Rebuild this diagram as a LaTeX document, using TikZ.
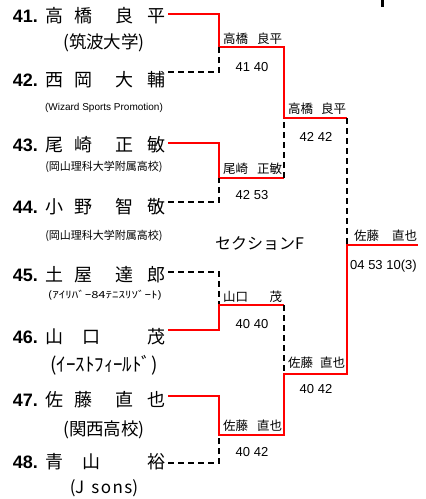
\documentclass[tikz,border=0pt]{standalone}
\usepackage{fontspec}
\setmainfont{Liberation Sans}
\newfontfamily\jp{Noto Sans CJK JP}

% letter-spaced player names
\newcommand{\fourname}[4]{\makebox[18pt][l]{#1}\hspace{11pt}\makebox[18pt][l]{#2}\hspace{23pt}\makebox[18pt][l]{#3}\hspace{14pt}#4}
\newcommand{\threename}[3]{\makebox[18pt][l]{#1}\hspace{19pt}\makebox[18pt][l]{#2}\hspace{47pt}#3}
\newcommand{\wname}[3][59pt]{\makebox[#1][l]{#2\hfill#3}}

\tikzset{
  num/.style={anchor=east,inner sep=0pt,font=\fontsize{18}{18}\selectfont\bfseries},
  player/.style={anchor=west,inner sep=0pt,font=\jp\fontsize{18}{18}\selectfont},
  club/.style={inner sep=0pt,font=\jp\fontsize{17.5}{17.5}\selectfont},
  tinyclub/.style={inner sep=0pt,font=\jp\fontsize{11}{11}\selectfont},
  winner/.style={anchor=west,inner sep=0pt,font=\jp\fontsize{12.5}{12.5}\selectfont},
  score/.style={inner sep=0pt,text height=9.3pt,text depth=0pt,font=\fontsize{13}{13}\selectfont},
  won/.style={red,line width=1.6pt},
  lost/.style={black,line width=1.4pt,dash pattern=on 6pt off 4pt}
}

\begin{document}
\begin{tikzpicture}[x=1pt,y=-1pt]
\useasboundingbox (0,0) rectangle (426,499);
\fill (380.5,0) rectangle (383.5,7);

\node[num] (n41) at (38,16) {41.};
\node[player] (p41) at (45,16) {\fourname{高}{橋}{良}{平}};
\node[club] (c41) at (104,43) {(筑波大学)};
\node[num] (n42) at (38,80) {42.};
\node[player] (p42) at (45,80) {\fourname{西}{岡}{大}{輔}};
\node[tinyclub,font=\fontsize{10}{10}\selectfont] (c42) at (104,108) {(Wizard Sports Promotion)};
\node[num] (n43) at (38,145) {43.};
\node[player] (p43) at (45,145) {\fourname{尾}{崎}{正}{敏}};
\node[tinyclub] (c43) at (104,167) {(岡山理科大学附属高校)};
\node[num] (n44) at (38,207) {44.};
\node[player] (p44) at (45,207) {\fourname{小}{野}{智}{敬}};
\node[tinyclub] (c44) at (104,236) {(岡山理科大学附属高校)};
\node[num] (n45) at (38,275) {45.};
\node[player] (p45) at (45,275) {\fourname{土}{屋}{達}{郎}};
\node[tinyclub,font=\jp\fontsize{13}{13}\selectfont] (c45) at (105,295) {\scalebox{1}[0.75]{(ｱｲﾘﾊﾞｰ84ﾃﾆｽﾘｿﾞｰﾄ)}};
\node[num] (n46) at (38,337) {46.};
\node[player] (p46) at (45,337) {\threename{山}{口}{茂}};
\node[club,font=\jp\fontsize{19}{19}\selectfont] (c46) at (104,365) {(ｲｰｽﾄﾌｨｰﾙﾄﾞ)};
\node[num] (n47) at (38,400) {47.};
\node[player] (p47) at (45,400) {\fourname{佐}{藤}{直}{也}};
\node[club] (c47) at (104,430) {(関西高校)};
\node[num] (n48) at (38,462) {48.};
\node[player] (p48) at (45,462) {\threename{青}{山}{裕}};
\node[club,font=\jp\fontsize{17}{17}\selectfont] (c48) at (104,488) {(J\hspace{7pt}s\hspace{1.5pt}o\hspace{1.5pt}n\hspace{1.5pt}s)};

\node[winner,font=\jp\fontsize{16}{16}\selectfont] (sec) at (215,243) {セクションF};

\coordinate (l41) at (168,14);
\coordinate (l42) at (168,72);
\coordinate (l43) at (168,143);
\coordinate (l44) at (168,202);
\coordinate (l45) at (168,272);
\coordinate (l46) at (168,330);
\coordinate (l47) at (168,396);
\coordinate (l48) at (168,463);
\coordinate (q1) at (219,47);
\coordinate (q2) at (219,178);
\coordinate (q3) at (219,305);
\coordinate (q4) at (219,435);
\coordinate (t1) at (284,47);
\coordinate (t2) at (284,178);
\coordinate (t3) at (284,305);
\coordinate (t4) at (284,435);
\coordinate (u1) at (284,118);
\coordinate (u2) at (284,374);
\coordinate (v1) at (347,118);
\coordinate (v2) at (347,374);
\coordinate (f) at (347,245);
\coordinate (fe) at (418,245);

\draw[won] (l41) -| (q1) -- (t1) -- (u1) -- (v1);
\draw[lost] (l42) -| (q1);
\draw[won] (l43) -| (q2) -- (t2);
\draw[lost] (l44) -| (q2);
\draw[lost] (t2) -- (u1);
\draw[lost] (v1) -- (f);
\draw[lost] (l45) -| (q3);
\draw[won] (l46) -| (q3) -- (t3);
\draw[lost] (t3) -- (u2);
\draw[won] (l47) -| (q4) -- (t4) -- (u2) -- (v2) -- (f) -- (fe);
\draw[lost] (l48) -| (q4);

\node[winner] (w1) at (223,39) {\wname{高橋}{良平}};
\node[score] (s1) at (252,67) {41 40};
\node[winner] (w2) at (223,169) {\wname{尾崎}{正敏}};
\node[score] (s2) at (252,195) {42 53};
\node[winner] (w3) at (223,297) {\wname{山口}{茂}};
\node[score] (s3) at (252,324) {40 40};
\node[winner] (w4) at (223,426) {\wname{佐藤}{直也}};
\node[score] (s4) at (252,452) {40 42};
\node[winner] (w5) at (288,109) {\wname[58pt]{高橋}{良平}};
\node[score] (s5) at (316,137) {42 42};
\node[winner] (w6) at (288,363) {\wname[57pt]{佐藤}{直也}};
\node[score] (s6) at (316,389) {40 42};
\node[winner] (w7) at (354,236) {\wname[63pt]{佐藤}{直也}};
\node[score,anchor=west] (s7) at (350,265) {04 53 10(3)};
\end{tikzpicture}
\end{document}
